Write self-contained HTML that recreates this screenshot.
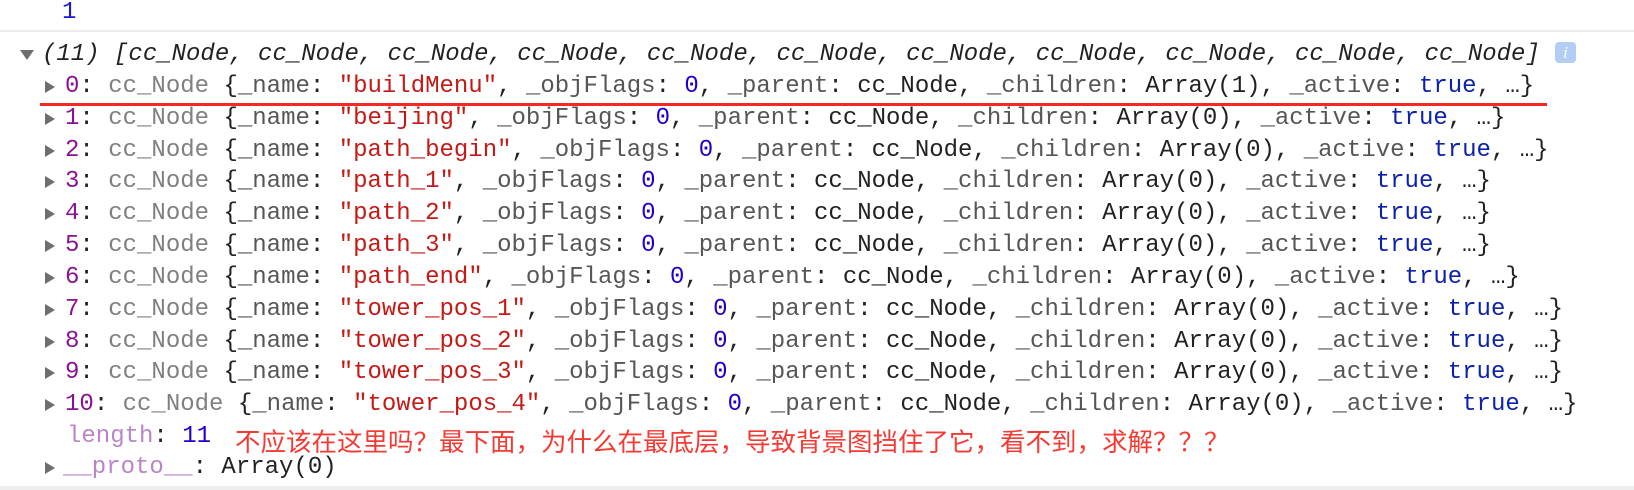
<!DOCTYPE html>
<html><head><meta charset="utf-8"><style>
body{margin:0;width:1634px;height:490px;background:#fff;overflow:hidden;position:relative;font-family:"Liberation Mono",monospace;font-size:24px;}
.r{position:absolute;left:0;height:32px;line-height:32px;white-space:pre;color:#222;}
.t{position:absolute;left:45px;top:10px;width:0;height:0;border-top:6px solid transparent;border-bottom:6px solid transparent;border-left:10px solid #6e6e6e;}
.x{position:absolute;left:65px;top:0;}
.i{color:#881391}.g{color:#808080}.k{color:#565656}.s{color:#c41a16}.n{color:#1c00cf}.b{color:#0d22aa}.p{color:#b985c8}
</style></head><body>
<div class="r" style="top:-3px;left:62px;color:#1a1acf">1</div>
<div style="position:absolute;left:0;top:30px;width:1634px;height:2px;background:#ebebeb"></div>
<div style="position:absolute;left:20px;top:50px;width:0;height:0;border-left:7px solid transparent;border-right:7px solid transparent;border-top:10px solid #6e6e6e"></div>
<div class="r" style="top:39px;left:42px;font-style:italic;color:#222">(11) [cc_Node, cc_Node, cc_Node, cc_Node, cc_Node, cc_Node, cc_Node, cc_Node, cc_Node, cc_Node, cc_Node]</div>
<div style="position:absolute;left:1555px;top:42px;width:21px;height:21px;border-radius:4px;background:#b3cdf5;color:#fff;font:italic 17px 'Liberation Serif',serif;text-align:center;line-height:21px">i</div>

<div class="r" style="top:71px"><div class="t"></div><span class="x"><span class="i">0</span>: <span class="g">cc_Node</span> {<span class="k">_name</span>: <span class="s">"buildMenu"</span>, <span class="k">_objFlags</span>: <span class="n">0</span>, <span class="k">_parent</span>: cc_Node, <span class="k">_children</span>: Array(1), <span class="k">_active</span>: <span class="b">true</span>, …}</span></div>
<div style="position:absolute;left:40px;top:103px;width:1507px;height:3px;background:#f22a22"></div>

<div class="r" style="top:103px"><div class="t"></div><span class="x"><span class="i">1</span>: <span class="g">cc_Node</span> {<span class="k">_name</span>: <span class="s">"beijing"</span>, <span class="k">_objFlags</span>: <span class="n">0</span>, <span class="k">_parent</span>: cc_Node, <span class="k">_children</span>: Array(0), <span class="k">_active</span>: <span class="b">true</span>, …}</span></div>
<div class="r" style="top:135px"><div class="t"></div><span class="x"><span class="i">2</span>: <span class="g">cc_Node</span> {<span class="k">_name</span>: <span class="s">"path_begin"</span>, <span class="k">_objFlags</span>: <span class="n">0</span>, <span class="k">_parent</span>: cc_Node, <span class="k">_children</span>: Array(0), <span class="k">_active</span>: <span class="b">true</span>, …}</span></div>
<div class="r" style="top:166px"><div class="t"></div><span class="x"><span class="i">3</span>: <span class="g">cc_Node</span> {<span class="k">_name</span>: <span class="s">"path_1"</span>, <span class="k">_objFlags</span>: <span class="n">0</span>, <span class="k">_parent</span>: cc_Node, <span class="k">_children</span>: Array(0), <span class="k">_active</span>: <span class="b">true</span>, …}</span></div>
<div class="r" style="top:198px"><div class="t"></div><span class="x"><span class="i">4</span>: <span class="g">cc_Node</span> {<span class="k">_name</span>: <span class="s">"path_2"</span>, <span class="k">_objFlags</span>: <span class="n">0</span>, <span class="k">_parent</span>: cc_Node, <span class="k">_children</span>: Array(0), <span class="k">_active</span>: <span class="b">true</span>, …}</span></div>
<div class="r" style="top:230px"><div class="t"></div><span class="x"><span class="i">5</span>: <span class="g">cc_Node</span> {<span class="k">_name</span>: <span class="s">"path_3"</span>, <span class="k">_objFlags</span>: <span class="n">0</span>, <span class="k">_parent</span>: cc_Node, <span class="k">_children</span>: Array(0), <span class="k">_active</span>: <span class="b">true</span>, …}</span></div>
<div class="r" style="top:262px"><div class="t"></div><span class="x"><span class="i">6</span>: <span class="g">cc_Node</span> {<span class="k">_name</span>: <span class="s">"path_end"</span>, <span class="k">_objFlags</span>: <span class="n">0</span>, <span class="k">_parent</span>: cc_Node, <span class="k">_children</span>: Array(0), <span class="k">_active</span>: <span class="b">true</span>, …}</span></div>
<div class="r" style="top:294px"><div class="t"></div><span class="x"><span class="i">7</span>: <span class="g">cc_Node</span> {<span class="k">_name</span>: <span class="s">"tower_pos_1"</span>, <span class="k">_objFlags</span>: <span class="n">0</span>, <span class="k">_parent</span>: cc_Node, <span class="k">_children</span>: Array(0), <span class="k">_active</span>: <span class="b">true</span>, …}</span></div>
<div class="r" style="top:326px"><div class="t"></div><span class="x"><span class="i">8</span>: <span class="g">cc_Node</span> {<span class="k">_name</span>: <span class="s">"tower_pos_2"</span>, <span class="k">_objFlags</span>: <span class="n">0</span>, <span class="k">_parent</span>: cc_Node, <span class="k">_children</span>: Array(0), <span class="k">_active</span>: <span class="b">true</span>, …}</span></div>
<div class="r" style="top:357px"><div class="t"></div><span class="x"><span class="i">9</span>: <span class="g">cc_Node</span> {<span class="k">_name</span>: <span class="s">"tower_pos_3"</span>, <span class="k">_objFlags</span>: <span class="n">0</span>, <span class="k">_parent</span>: cc_Node, <span class="k">_children</span>: Array(0), <span class="k">_active</span>: <span class="b">true</span>, …}</span></div>
<div class="r" style="top:389px"><div class="t"></div><span class="x"><span class="i">10</span>: <span class="g">cc_Node</span> {<span class="k">_name</span>: <span class="s">"tower_pos_4"</span>, <span class="k">_objFlags</span>: <span class="n">0</span>, <span class="k">_parent</span>: cc_Node, <span class="k">_children</span>: Array(0), <span class="k">_active</span>: <span class="b">true</span>, …}</span></div>
<div class="r" style="top:421px"><span class="x" style="left:67px"><span class="p">length</span>: <span class="n">11</span></span></div>
<div style="position:absolute;left:235px;top:426px;font-family:'Liberation Sans','Noto Sans CJK SC',sans-serif;font-size:25.5px;line-height:34px;color:#f53a33;white-space:nowrap">不应该在这里吗？最下面，为什么在最底层，导致背景图挡住了它，看不到，求解？？？</div>
<div class="r" style="top:452px"><div class="t"></div><span class="x" style="left:63px"><span class="p">__proto__</span>: Array(0)</span></div>
<div style="position:absolute;left:0;top:486px;width:1634px;height:4px;background:#eeeeee"></div>
</body></html>
